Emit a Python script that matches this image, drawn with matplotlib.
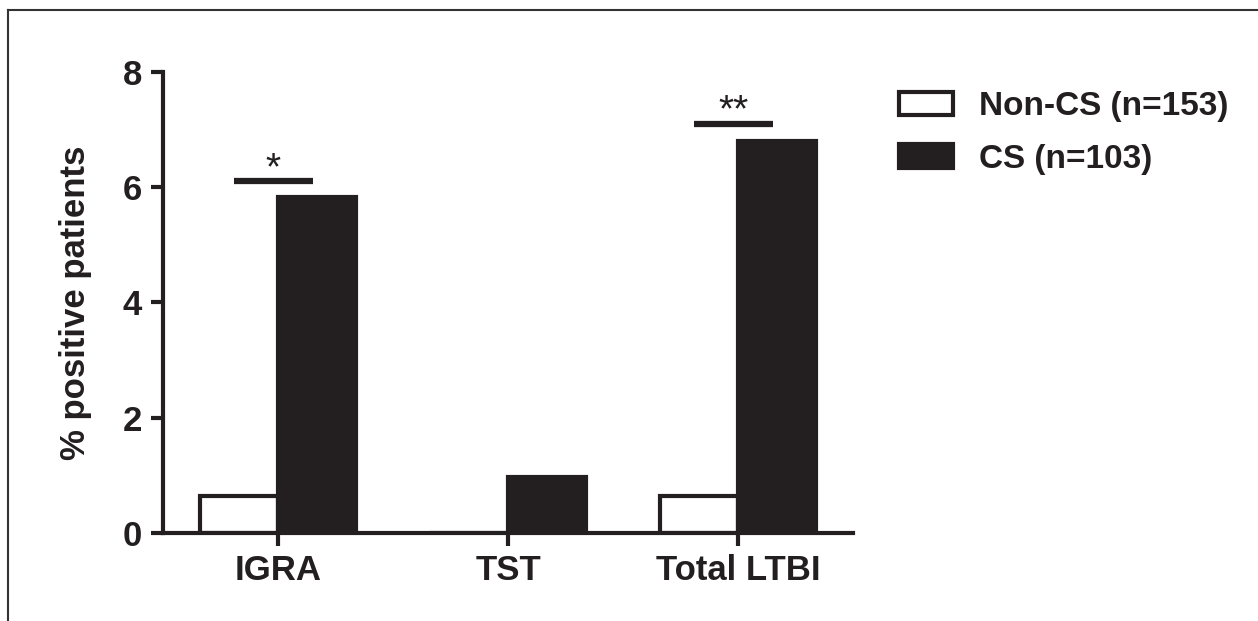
import numpy as np
import matplotlib
matplotlib.use("Agg")
import matplotlib.pyplot as plt
from matplotlib.lines import Line2D

plt.rcParams['font.family'] = ['Liberation Sans', 'DejaVu Sans']

categories = ['IGRA', 'TST', 'Total LTBI']
non_cs = [0.65, 0.0, 0.65]
cs = [5.83, 0.97, 6.80]
labels = ['Non-CS (n=153)', 'CS (n=103)']
sig_marks = ['*', '', '**']
sig_heights = [6.1, None, 7.1]

ink = '#231f20'
lw = 3.0

fig = plt.figure(figsize=(12.58, 6.21), dpi=100)
ax = fig.add_axes([0.1296, 0.1417, 0.5485, 0.7424])

x = np.arange(len(categories))
w = 0.34
ax.bar(x - w / 2, non_cs, w, color='white', edgecolor=ink, linewidth=lw, label=labels[0])
ax.bar(x + w / 2, cs, w, color=ink, edgecolor=ink, linewidth=lw, label=labels[1])

# significance bars with asterisks
for i, (m, h) in enumerate(zip(sig_marks, sig_heights)):
    if not m:
        continue
    ax.plot([i - 0.19, i + 0.152], [h, h], color=ink, lw=4.5, solid_capstyle='butt')
    ax.text(i - 0.02, h + 0.04, m, ha='center', va='baseline', fontsize=28, color=ink)

ax.set_xlim(-0.5, 2.5)
ax.set_ylim(0, 8)
ax.set_yticks([0, 2, 4, 6, 8])
ax.set_xticks(x)
ax.set_xticklabels(categories)
ax.set_ylabel('% positive patients', fontsize=25, fontweight='bold', color=ink, labelpad=22)

for s in ['top', 'right']:
    ax.spines[s].set_visible(False)
for s in ['left', 'bottom']:
    ax.spines[s].set_linewidth(lw)
    ax.spines[s].set_color(ink)
ax.tick_params(axis='both', length=9, width=lw, color=ink, labelsize=25, labelcolor=ink, pad=6)
for t in ax.get_xticklabels() + ax.get_yticklabels():
    t.set_fontweight('bold')

leg = fig.legend(loc='upper left', bbox_to_anchor=(0.691, 0.902), frameon=False,
                 prop={'size': 24, 'weight': 'bold'}, handlelength=1.6, handleheight=0.7,
                 handletextpad=0.8, labelspacing=0.65)
for t in leg.get_texts():
    t.set_color(ink)

# frame lines of the original figure panel
fig.add_artist(Line2D([8 / 1258, 1.0], [1 - 10 / 621, 1 - 10 / 621], color='#333333', lw=1.5))
fig.add_artist(Line2D([8 / 1258, 8 / 1258], [0.0, 1 - 10 / 621], color='#333333', lw=1.5))

fig.savefig('out.png', dpi=100)
